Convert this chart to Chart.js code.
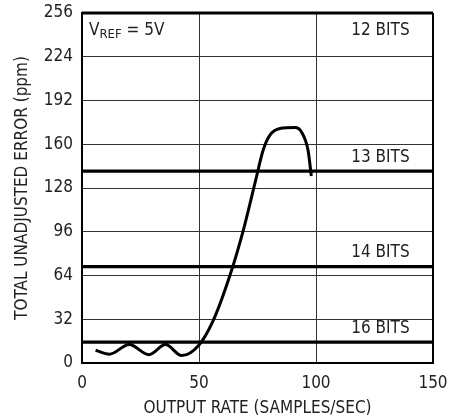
<!DOCTYPE html>
<html>
<head>
<meta charset="utf-8">
<script src="https://cdn.jsdelivr.net/npm/chart.js@4/dist/chart.umd.min.js"></script>
<style>
  html, body { margin: 0; padding: 0; background: #fff; }
  #wrap { width: 450px; height: 419px; }
</style>
</head>
<body>
<div id="wrap"><canvas id="chart" width="450" height="419"></canvas></div>
<script>
// pick the narrowest installed font we know about
function pickFont(list) {
    const c = document.createElement('canvas').getContext('2d')
    const sample = 'OUTPUT RATE (SAMPLES/SEC) 0123456789'
    c.font = '40px monospace'
    const base = c.measureText(sample).width
    for (const f of list) {
        c.font = '40px "' + f + '", monospace'
        if (c.measureText(sample).width !== base) return '"' + f + '", sans-serif'
    }
    return 'Arial, sans-serif'
}
const FONT = pickFont(['Liberation Sans Narrow', 'DejaVu Sans Condensed', 'Roboto Condensed', 'Roboto'])

// measured error curve (samples/sec, ppm)
const rate = [5.8, 11.7, 20.2, 28.6, 35.7, 42.6, 49.9, 56.1, 63.2, 68.9, 74.2, 77.4, 80.3, 84.6, 91, 93.8, 96.6, 98]
const errorPpm = [9.3, 6.4, 13.5, 6.1, 13.5, 5.4, 13, 31.2, 64, 96.9, 133.6, 155.6, 166.6, 171.5, 172.2, 169, 155.6, 136.8]

// resolution limit lines
const bitLabels = ['12 BITS', '13 BITS', '14 BITS', '16 BITS']
const bitLevels = [256, 140.3, 70.5, 15.2]

const xTicks = [0, 50, 100, 150]
const yTicks = [0, 32, 64, 96, 128, 160, 192, 224, 256]

const labelRight = 140

const limitSets = bitLevels.map((level, i) => ({
    label: bitLabels[i],
    data: [{x: 0, y: level}, {x: 150, y: level}],
    borderColor: '#000',
    borderWidth: 3.2,
    pointRadius: 0,
    fill: false,
    clip: false
}))

const textPlugin = {
    id: 'bitText',
    afterDatasetsDraw(chart) {
        const {ctx, scales: {x, y}} = chart
        ctx.save()
        ctx.fillStyle = '#222'
        ctx.font = '17px ' + FONT
        ctx.textAlign = 'right'
        ctx.textBaseline = 'middle'
        bitLevels.forEach((level, i) => {
            const py = i === 0 ? y.getPixelForValue(level) + 18 : y.getPixelForValue(level) - 14
            ctx.fillText(bitLabels[i], x.getPixelForValue(labelRight), py)
        })
        // V_REF = 5V
        ctx.textAlign = 'left'
        let px = x.getPixelForValue(3)
        const py = y.getPixelForValue(256) + 18
        ctx.fillText('V', px, py)
        px += ctx.measureText('V').width
        ctx.font = '13px ' + FONT
        ctx.fillText('REF', px, py + 4)
        px += ctx.measureText('REF').width
        ctx.font = '17px ' + FONT
        ctx.fillText(' = 5V', px, py)
        ctx.restore()
    }
}

new Chart(document.getElementById('chart'), {
    type: 'line',
    data: {
        datasets: [{
            label: 'Error',
            data: rate.map((r, i) => ({x: r, y: errorPpm[i]})),
            borderColor: '#000',
            borderWidth: 3,
            pointRadius: 0,
            tension: 0.4,
            cubicInterpolationMode: 'monotone',
            fill: false
        }, ...limitSets]
    },
    options: {
        responsive: false,
        animation: false,
        layout: {padding: {left: 0, right: 17, top: 13, bottom: 0}},
        plugins: {legend: {display: false}, tooltip: {enabled: false}},
        scales: {
            x: {
                type: 'linear',
                min: 0,
                max: 150,
                afterBuildTicks: (s) => { s.ticks = xTicks.map(v => ({value: v})) },
                afterFit: (s) => { s.height = 56; s.paddingLeft = 0; s.paddingRight = 0 },
                border: {color: '#000', width: 2},
                grid: {color: '#333', lineWidth: 1, drawTicks: false},
                ticks: {color: '#222', font: {family: FONT, size: 17}, padding: 10, maxRotation: 0},
                title: {display: true, text: 'OUTPUT RATE (SAMPLES/SEC)', color: '#222', font: {family: FONT, size: 17}, padding: {top: 0, bottom: 0}}
            },
            y: {
                type: 'linear',
                min: 0,
                max: 256,
                afterBuildTicks: (s) => { s.ticks = yTicks.map(v => ({value: v})) },
                afterFit: (s) => { s.width = 82; s.paddingTop = 0; s.paddingBottom = 0 },
                border: {color: '#000', width: 2},
                grid: {color: '#333', lineWidth: 1, drawTicks: false},
                ticks: {color: '#222', font: {family: FONT, size: 17}, padding: 9},
                title: {display: true, text: 'TOTAL UNADJUSTED ERROR (ppm)', color: '#222', font: {family: FONT, size: 17}, padding: {top: 12, bottom: 0}}
            }
        }
    },
    plugins: [textPlugin, {
        id: 'frame',
        afterDraw(chart) {
            const {ctx, chartArea: a} = chart
            ctx.save()
            ctx.strokeStyle = '#000'
            ctx.lineWidth = 2
            ctx.beginPath()
            ctx.moveTo(a.right, a.top)
            ctx.lineTo(a.right, a.bottom)
            ctx.stroke()
            ctx.restore()
        }
    }]
})
</script>
</body>
</html>
